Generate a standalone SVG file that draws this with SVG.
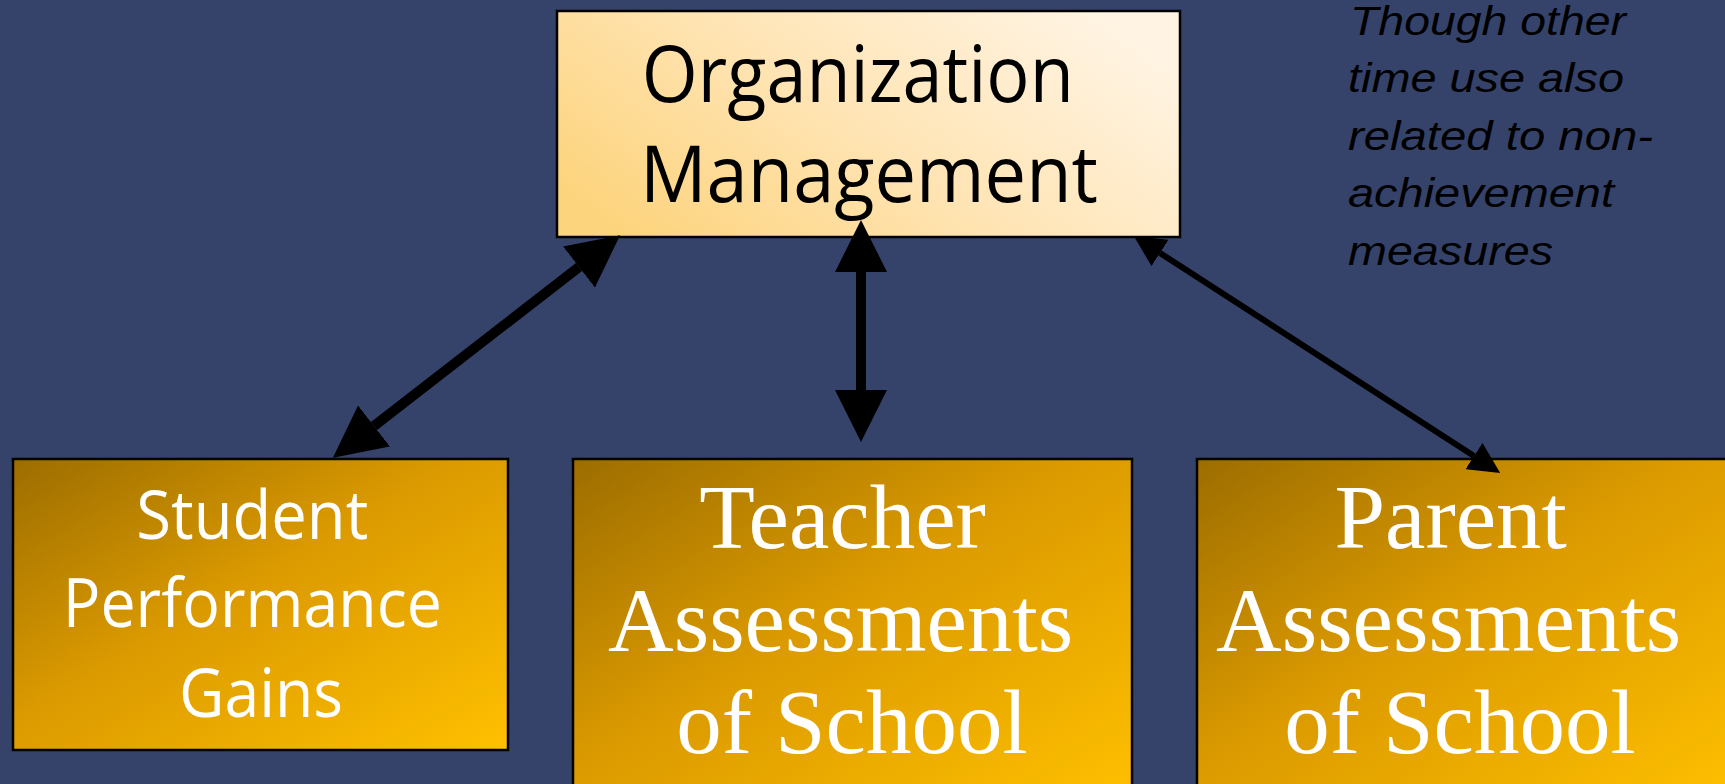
<svg xmlns="http://www.w3.org/2000/svg" width="1725" height="784" viewBox="0 0 1725 784">
  <style>
    .box { stroke: #000; stroke-width: 2.5; }
    .sans { font-family: "Open Sans", "Liberation Sans", sans-serif; text-anchor: middle; }
    .serif { font-family: "Liberation Serif", "DejaVu Serif", serif; font-size: 91px; fill: #fff; text-anchor: middle; }
    .note { font-family: "Liberation Sans", Arial, sans-serif; font-style: italic; font-size: 41px; fill: #000; }
    .link { stroke: #000; fill: none; marker-start: url(#head); marker-end: url(#head); }
  </style>
  <defs>
    <linearGradient id="peach" x1="0" y1="0.75" x2="1" y2="0.25">
      <stop offset="0" stop-color="#FDD47E"/>
      <stop offset="0.5" stop-color="#FFE5B6"/>
      <stop offset="1" stop-color="#FFF4E4"/>
    </linearGradient>
    <linearGradient id="gold" x1="0" y1="0" x2="1" y2="1">
      <stop offset="0" stop-color="#9C6D00"/>
      <stop offset="0.45" stop-color="#DB9A00"/>
      <stop offset="1" stop-color="#FFC000"/>
    </linearGradient>
    <marker id="head" viewBox="0 0 10 10" refX="0" refY="5" markerWidth="5.2" markerHeight="5.2" orient="auto-start-reverse">
      <path d="M0,0 L10,5 L0,10 z" fill="#000"/>
    </marker>
  </defs>

  <rect width="1725" height="784" fill="#35436A"/>

  <g id="organization-management">
    <rect class="box" x="557" y="11" width="623" height="226" fill="url(#peach)"/>
    <text class="sans" font-size="78" fill="#000">
      <tspan x="868" y="102" textLength="432" lengthAdjust="spacingAndGlyphs">Organization</tspan>
      <tspan x="869" y="202" textLength="458" lengthAdjust="spacingAndGlyphs">Management</tspan>
    </text>
  </g>

  <g id="student-performance">
    <rect class="box" x="13" y="459" width="495" height="291" fill="url(#gold)"/>
    <text class="sans" font-size="67" fill="#fff">
      <tspan x="261" y="539" textLength="232" lengthAdjust="spacingAndGlyphs">Student</tspan>
      <tspan x="261" y="627" textLength="379" lengthAdjust="spacingAndGlyphs">Performance</tspan>
      <tspan x="261" y="717" textLength="164" lengthAdjust="spacingAndGlyphs">Gains</tspan>
    </text>
  </g>

  <g id="teacher-assessments">
    <rect class="box" x="573" y="459" width="559" height="345" fill="url(#gold)"/>
    <text class="serif">
      <tspan x="854" y="548">Teacher</tspan>
      <tspan x="852" y="651">Assessments</tspan>
      <tspan x="852" y="753">of School</tspan>
    </text>
  </g>

  <g id="parent-assessments">
    <rect class="box" x="1197" y="459" width="540" height="345" fill="url(#gold)"/>
    <text class="serif">
      <tspan x="1462" y="548">Parent</tspan>
      <tspan x="1460" y="651">Assessments</tspan>
      <tspan x="1460" y="753">of School</tspan>
    </text>
  </g>

  <g id="note">
    <text class="note">
      <tspan x="1350" y="35" textLength="276" lengthAdjust="spacingAndGlyphs">Though other</tspan>
      <tspan x="1348" y="92" textLength="276" lengthAdjust="spacingAndGlyphs">time use also</tspan>
      <tspan x="1348" y="150" textLength="305" lengthAdjust="spacingAndGlyphs">related to non-</tspan>
      <tspan x="1348" y="207" textLength="266" lengthAdjust="spacingAndGlyphs">achievement</tspan>
      <tspan x="1348" y="265" textLength="205" lengthAdjust="spacingAndGlyphs">measures</tspan>
    </text>
  </g>

  <g id="connectors">
    <line class="link" x1="579" y1="267" x2="374" y2="426" stroke-width="10"/>
    <line class="link" x1="861" y1="272" x2="861" y2="390" stroke-width="10"/>
    <line class="link" x1="1160" y1="253" x2="1474" y2="456" stroke-width="6"/>
  </g>
</svg>
